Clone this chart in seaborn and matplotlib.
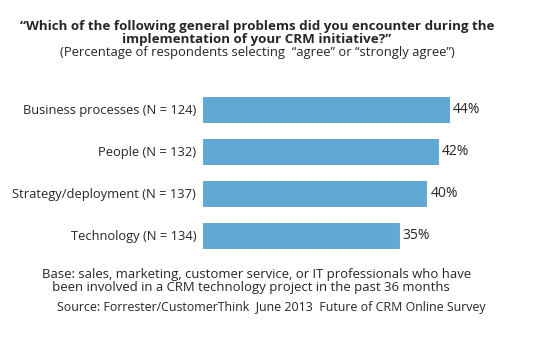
import matplotlib
matplotlib.use("Agg")
import matplotlib.pyplot as plt
import seaborn as sns
import pandas as pd

# data
categories = ["Business processes (N = 124)", "People (N = 132)",
              "Strategy/deployment (N = 137)", "Technology (N = 134)"]
values = [44, 42, 40, 35]

df = pd.DataFrame({"problem": categories, "pct": values})

sns.set_style("white")
plt.rcParams["font.family"] = ["Open Sans", "DejaVu Sans"]

fig = plt.figure(figsize=(5.55, 3.54), dpi=100)
ax = fig.add_axes([0.366, 0.2754, 0.503, 0.475])

sns.barplot(data=df, x="pct", y="problem", color="#60a8d6", width=0.6,
            saturation=1, edgecolor="#5a9fcc", linewidth=0.6, ax=ax)

ax.set_xlim(0, 50)
ax.set_ylim(3.5, -0.5)
ax.set_xlabel("")
ax.set_ylabel("")
ax.set_xticks([])
ax.tick_params(axis="y", length=0, pad=5, labelsize=9.3)
for s in ax.spines.values():
    s.set_visible(False)

for i, v in enumerate(values):
    ax.text(v + 0.7, i, f"{v}%", va="center", ha="left", fontsize=10)

fig.text(0.463, 0.907, "\u201cWhich of the following general problems did you encounter during the\nimplementation of your CRM initiative?\u201d",
         ha="center", va="center", fontsize=9.6, fontweight="bold", linespacing=1.0)
fig.text(0.463, 0.851, "(Percentage of respondents selecting  \u201cagree\u201d or \u201cstrongly agree\u201d)",
         ha="center", va="center", fontsize=9.4)

fig.text(0.076, 0.2076, "Base: sales, marketing, customer service, or IT professionals who have\n   been involved in a CRM technology project in the past 36 months",
         ha="left", va="center", fontsize=9.45, linespacing=1.0)
fig.text(0.103, 0.13, "Source: Forrester/CustomerThink  June 2013  Future of CRM Online Survey",
         ha="left", va="center", fontsize=8.9)

fig.savefig("out.png", dpi=100)
